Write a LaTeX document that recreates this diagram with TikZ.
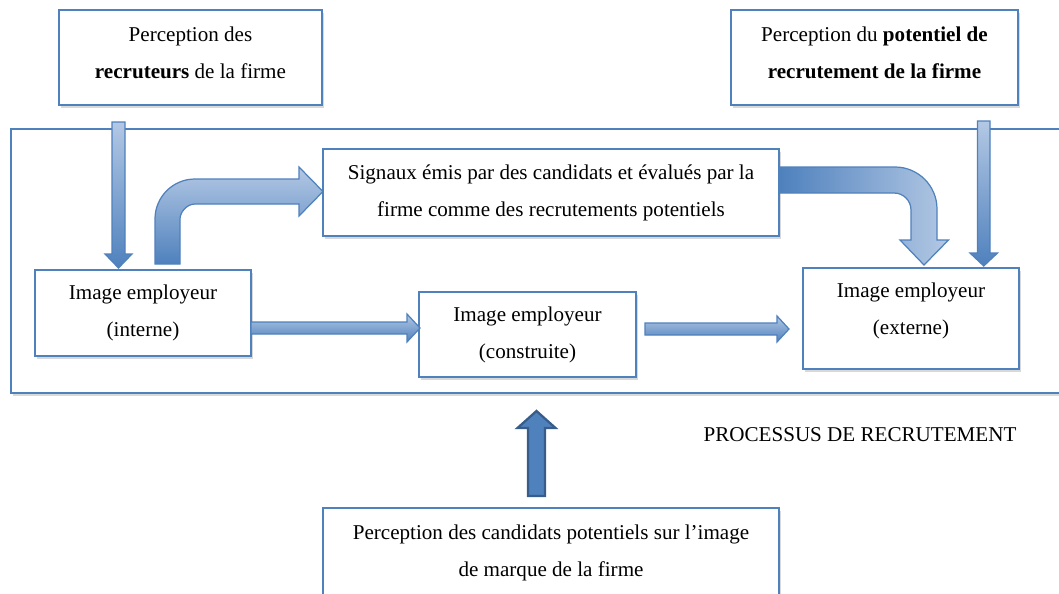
\documentclass[tikz,border=0pt]{standalone}
\usepackage{fontspec}
\setmainfont{Liberation Serif}
\usetikzlibrary{shadows}
\definecolor{boxblue}{HTML}{4F81BD}
\definecolor{arrowlight}{HTML}{B3C8E4}
\definecolor{arrowdark}{HTML}{4F81BD}
\definecolor{updark}{HTML}{385D8A}
\tikzset{
  box/.style={draw=boxblue, line width=0.9pt, fill=white, align=center, inner sep=0pt,
    drop shadow={shadow xshift=1.2pt, shadow yshift=-1.8pt, opacity=0.3}},
  blockarrow/.style={draw=boxblue, line width=0.7pt, line join=miter}
}
\begin{document}
\begin{tikzpicture}[x=0.02cm, y=-0.02cm, font=\fontsize{12pt}{21pt}\selectfont]
        \useasboundingbox (0,0) rectangle (1059,593);
        % process frame
        \node[box, minimum width=21.28cm, minimum height=5.28cm] (proc) at (543,261) {};
        \node (lbl) at (860,435) {PROCESSUS DE RECRUTEMENT};
        
        % top boxes
        \node[box, minimum width=5.26cm, minimum height=1.9cm, text depth=0.18cm] (recr) at (190.5,57.5) {Perception des\\\textbf{recruteurs} de la firme};
        \node[box, minimum width=5.74cm, minimum height=1.9cm, text depth=0.18cm] (pot) at (874.5,57.5) {Perception du \textbf{potentiel de}\\\textbf{recrutement de la firme}};
        
        % inside the process
        \node[box, minimum width=9.12cm, minimum height=1.74cm] (sig) at (551,192.5) {Signaux émis par des candidats et évalués par la\\firme comme des recrutements potentiels};
        \node[box, minimum width=4.32cm, minimum height=1.72cm] (int) at (143,313) {Image employeur\\(interne)};
        \node[box, minimum width=4.34cm, minimum height=1.7cm] (cons) at (527.5,334.5) {Image employeur\\(construite)};
        \node[box, minimum width=4.32cm, minimum height=2.02cm, text depth=0.4cm] (ext) at (911,318.5) {Image employeur\\(externe)};
        
        % bottom box
        \node[box, minimum width=9.12cm, minimum height=1.8cm] (cand) at (551,553) {Perception des candidats potentiels sur l’image\\de marque de la firme};
        
        % recr -> int
        \shade[blockarrow, top color=arrowlight, bottom color=arrowdark] (112,122) -- (125,122) -- (125,254) -- (132,254) -- (118.5,268) -- (105,254) -- (112,254) -- cycle;
        % pot -> ext
        \shade[blockarrow, top color=arrowlight, bottom color=arrowdark] (977.5,121) -- (990,121) -- (990,253) -- (997.5,253) -- (983.75,266) -- (970,253) -- (977.5,253) -- cycle;
        % int -> sig (bent)
        \shade[blockarrow, top color=arrowlight, bottom color=arrowdark] (155,264) -- (155,219) .. controls (155,196.9) and (172.9,179) .. (195,179) -- (299,179) -- (299,167) -- (323,191.5) -- (299,216) -- (299,204) -- (195,204) .. controls (186.7,204) and (180,212.3) .. (180,219) -- (180,264) -- cycle;
        % sig -> ext (bent)
        \shade[blockarrow, left color=arrowdark, right color=arrowlight] (780,167) -- (895,167) .. controls (918.2,167) and (937,185.8) .. (937,209) -- (937,240) -- (948.5,240) -- (924,265) -- (900,240) -- (911,240) -- (911,210) .. controls (911,200.6) and (903.4,193) .. (894,193) -- (780,193) -- cycle;
        % int -> cons
        \shade[blockarrow, top color=arrowlight, bottom color=arrowdark] (251,322) -- (407,322) -- (407,314) -- (420,328) -- (407,342) -- (407,334) -- (251,334) -- cycle;
        % cons -> ext
        \shade[blockarrow, top color=arrowlight, bottom color=arrowdark] (645,323) -- (777,323) -- (777,316) -- (789,329) -- (777,342) -- (777,335) -- (645,335) -- cycle;
        % cand -> process
        \filldraw[draw=updark, fill=boxblue, line width=1.3pt] (528,496) -- (528,428) -- (517.5,428) -- (536.5,411) -- (555.5,428) -- (545,428) -- (545,496) -- cycle;
        
\end{tikzpicture}
\end{document}
